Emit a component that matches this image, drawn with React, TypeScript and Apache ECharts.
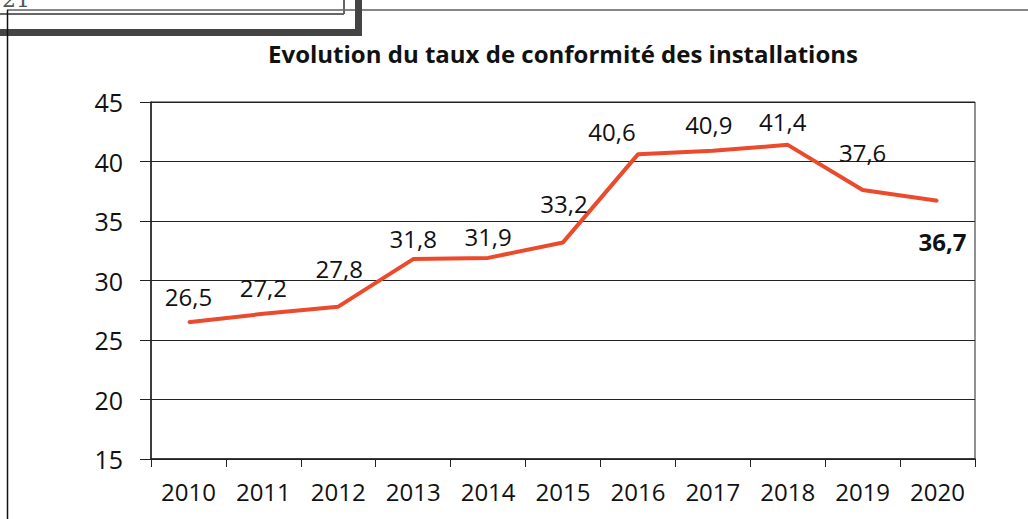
import React, { useEffect, useRef } from "react";
import * as echarts from "echarts";

const years = ["2010", "2011", "2012", "2013", "2014", "2015", "2016", "2017", "2018", "2019", "2020"];
const rates = [26.5, 27.2, 27.8, 31.8, 31.9, 33.2, 40.6, 40.9, 41.4, 37.6, 36.7];
const yTicks = { min: 15, max: 45, interval: 5 };
const titleText = "Evolution du taux de conformité des installations";

// label offsets [dx, dy] relative to default top placement (styling only)
const labelOffsets: [number, number][] = [
  [0, 0], [0, 0], [1, -12], [0, 5], [0, 5], [1, -13], [-26, 3], [-4, 0], [-5, 3], [0, -12], [0, 0],
];

const FONT = "'Open Sans', 'Liberation Sans', sans-serif";

export default function App() {
  const ref = useRef<HTMLDivElement>(null);
  useEffect(() => {
    document.body.style.margin = "0";
    const chart = echarts.init(ref.current!, null, { renderer: "svg" });
    const last = rates.length - 1;
    const data = rates.map((v, i) => {
      if (i === last) {
        return {
          value: v,
          label: {
            show: true,
            position: "bottom",
            distance: 28,
            fontWeight: "bold",
            offset: [5, 0],
          },
        };
      }
      return { value: v, label: { show: true, position: "top", offset: labelOffsets[i] } };
    });
    chart.setOption({
      animation: false,
      backgroundColor: "#ffffff",
      title: {
        text: titleText,
        left: 558,
        textAlign: "center",
        top: 36,
        textStyle: { fontFamily: FONT, fontWeight: "bold", fontSize: 24, color: "#111" },
      },
      grid: {
        left: 151,
        right: 53,
        top: 102,
        bottom: 60,
        show: true,
        borderColor: "#222",
        borderWidth: 1,
        backgroundColor: "transparent",
      },
      xAxis: {
        type: "category",
        data: years,
        boundaryGap: true,
        axisLine: { show: true, lineStyle: { color: "#222", width: 1.5 } },
        axisTick: { show: true, length: 8, lineStyle: { color: "#222" } },
        axisLabel: { fontFamily: FONT, fontSize: 24, color: "#111", margin: 20 },
        splitLine: { show: false },
      },
      yAxis: {
        type: "value",
        min: yTicks.min,
        max: yTicks.max,
        interval: yTicks.interval,
        axisLine: { show: true, lineStyle: { color: "#222", width: 1.5 } },
        axisTick: { show: true, length: 11, lineStyle: { color: "#222" } },
        axisLabel: { fontFamily: FONT, fontSize: 25, color: "#111", margin: 28 },
        splitLine: { show: true, lineStyle: { color: "#222", width: 1 } },
      },
      series: [
        {
          type: "line",
          data,
          showSymbol: true,
          symbol: "circle",
          symbolSize: 2,
          itemStyle: { color: "#ec4a2c" },
          lineStyle: { color: "#ec4a2c", width: 4 },
          label: {
            show: true,
            position: "top",
            distance: 13,
            fontFamily: FONT,
            fontSize: 24,
            color: "#111",
            formatter: (p: any) => String(p.value).replace(".", ","),
          },
        },
      ],
      graphic: [
        { type: "text", left: 2, top: -12, style: { text: "21", font: "22px 'DejaVu Serif', serif", fill: "#555" } },
        { type: "line", shape: { x1: 7, y1: 10, x2: 1028, y2: 10 }, style: { stroke: "#111", lineWidth: 1 } },
        { type: "line", shape: { x1: 0, y1: 14, x2: 344, y2: 14 }, style: { stroke: "#666", lineWidth: 2 } },
        { type: "line", shape: { x1: 344, y1: 0, x2: 344, y2: 14 }, style: { stroke: "#666", lineWidth: 2 } },
        { type: "rect", shape: { x: 0, y: 29, width: 362, height: 7 }, style: { fill: "#444" } },
        { type: "rect", shape: { x: 355, y: 0, width: 7, height: 36 }, style: { fill: "#444" } },
        { type: "line", shape: { x1: 7.5, y1: 10, x2: 7.5, y2: 519 }, style: { stroke: "#111", lineWidth: 1.5 } },
      ],
    });
    return () => chart.dispose();
  }, []);
  return <div ref={ref} style={{ position: "fixed", left: 0, top: 0, width: 1028, height: 519 }} />;
}
